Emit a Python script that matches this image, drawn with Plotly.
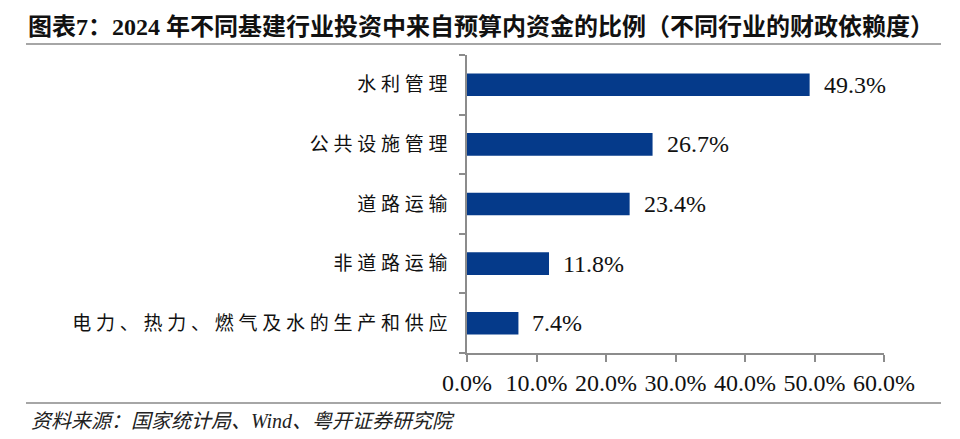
import plotly.graph_objects as go

# data
categories = ["水利管理", "公共设施管理", "道路运输", "非道路运输", "电力、热力、燃气及水的生产和供应"]
shares = [49.3, 26.7, 23.4, 11.8, 7.4]
x_ticks = [0, 10, 20, 30, 40, 50, 60]

title_text = "图表7：2024 年不同基建行业投资中来自预算内资金的比例（不同行业的财政依赖度）"
source_text = "资料来源：国家统计局、Wind、粤开证券研究院"

W, H = 960, 439
OFFSET = 8  # page body margin in front of the plot div
BAR_COLOR = "#053A8A"
AXIS_COLOR = "#8C8C8C"
SERIF = "Liberation Serif, Noto Sans CJK SC"


def px_x(px):
    return (px - OFFSET) / W


def px_y(px):
    return 1 - (px - OFFSET) / H


# spread the characters like the original Song-style labels
def spaced(label):
    return "\u2005".join(label)


fig = go.Figure()
fig.add_trace(go.Bar(
    x=shares, y=categories, orientation="h",
    marker=dict(color=BAR_COLOR, line=dict(width=0)),
    width=0.38, hoverinfo="x+y",
))

for cat, val in zip(categories, shares):
    fig.add_annotation(x=val, y=cat, xref="x", yref="y", text=f"{val:.1f}%",
                       showarrow=False, xanchor="left", xshift=12,
                       font=dict(family=SERIF, size=24, color="#111111"))

fig.update_xaxes(
    domain=[px_x(467), px_x(884)], range=[0, 60], automargin=False,
    tickvals=x_ticks, ticktext=[f"{v:.1f}%" for v in x_ticks],
    showline=True, linecolor=AXIS_COLOR, linewidth=1.5,
    ticks="outside", ticklen=7, tickcolor=AXIS_COLOR, tickwidth=1.5,
    showgrid=False, zeroline=False,
    tickfont=dict(family=SERIF, size=24, color="#111111"),
)
fig.update_yaxes(
    domain=[px_y(353), px_y(55)], autorange="reversed", automargin=False,
    tickvals=categories, ticktext=[spaced(c) for c in categories],
    showline=True, linecolor=AXIS_COLOR, linewidth=1.5,
    ticks="outside", ticklen=6, tickcolor=AXIS_COLOR, tickwidth=1.5,
    tickson="boundaries", ticklabelstandoff=14,
    showgrid=False, zeroline=False,
    tickfont=dict(family="Noto Sans CJK SC", size=19, color="#111111"),
)

fig.add_annotation(x=px_x(26), y=px_y(27), xref="paper", yref="paper",
                   text=f"<b>{title_text}</b>", showarrow=False,
                   xanchor="left", yanchor="middle",
                   font=dict(family=SERIF, size=24, color="#111111"))
fig.add_annotation(x=px_x(29), y=px_y(421), xref="paper", yref="paper",
                   text=f"<i>{source_text}</i>", showarrow=False,
                   xanchor="left", yanchor="middle",
                   font=dict(family=SERIF, size=20, color="#222222"))

for y_line in (44, 403):
    fig.add_shape(type="line", xref="paper", yref="paper",
                  x0=px_x(26), x1=px_x(941), y0=px_y(y_line), y1=px_y(y_line),
                  line=dict(color="#A6A6A6", width=2))

fig.update_layout(
    width=W, height=H, margin=dict(l=0, r=0, t=0, b=0, pad=0),
    plot_bgcolor="white", paper_bgcolor="white",
    showlegend=False,
)

fig.write_html("out.html")
